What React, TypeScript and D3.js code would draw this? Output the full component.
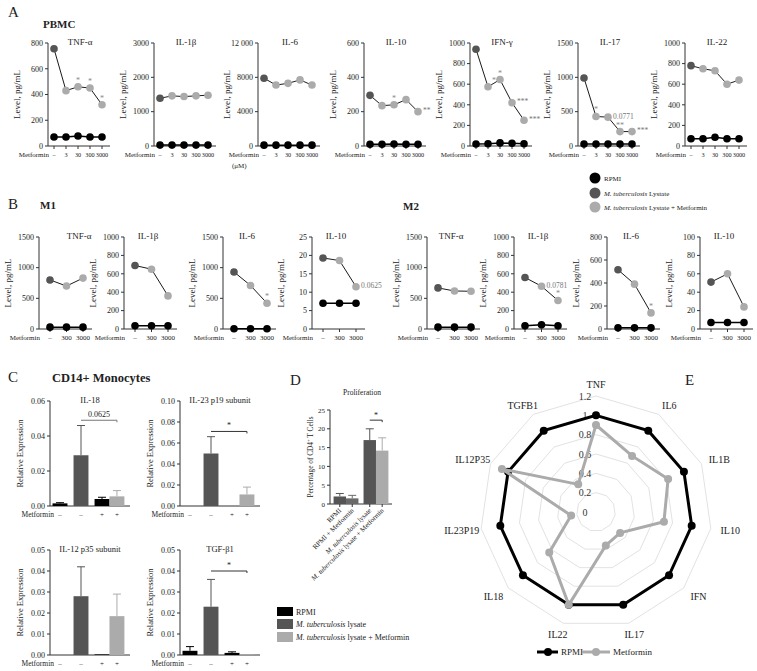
import React from "react";
import * as d3 from "d3";

const FONT = "'Liberation Serif', 'DejaVu Serif', serif";
const BLACK = "#000";
const DARK = "#555";
const LIGHT = "#ababab";
const INK = "#222";

// ---- A: PBMC ----
const pbmcDoses = ["–", "3", "30", "300", "3000"];
const pbmcTitles = ["TNF-α", "IL-1β", "IL-6", "IL-10", "IFN-γ", "IL-17", "IL-22"];
const pbmcMax = [800, 3000, 12000, 600, 1000, 1500, 1000];
const pbmcStep = [200, 1000, 4000, 200, 200, 500, 200];
const pbmcRpmi = [
  [70, 70, 78, 70, 70],
  [30, 30, 30, 30, 30],
  [100, 100, 100, 100, 100],
  [10, 10, 12, 10, 10],
  [20, 22, 30, 27, 22],
  [30, 30, 30, 30, 30],
  [70, 70, 85, 70, 70],
];
const pbmcLysate = [755, 1390, 7900, 295, 940, 990, 780];
const pbmcMet = [
  [430, 460, 450, 320],
  [1460, 1440, 1460, 1480],
  [7100, 7300, 7700, 7100],
  [235, 240, 270, 200],
  [575, 645, 420, 250],
  [430, 420, 210, 210],
  [750, 730, 600, 640],
];
const pbmcNotes: [number, string, string][][] = [
  [[1, "*", "up"], [2, "*", "up"], [3, "*", "up"]],
  [],
  [],
  [[1, "*", "up"], [3, "**", "right"]],
  [[0, "*", "upright"], [1, "*", "up"], [2, "***", "right"], [3, "***", "right"]],
  [[0, "*", "up"], [1, "0.0771", "right"], [2, "**", "up"], [3, "***", "right"]],
  [],
];

// ---- B: macrophages ----
const macroDoses = ["–", "300", "3000"];
const macroTitles = ["TNF-α", "IL-1β", "IL-6", "IL-10"];
const m1Max = [1500, 1000, 1500, 25];
const m1Step = [500, 200, 500, 5];
const m1Rpmi = [[30, 30, 30], [35, 35, 35], [5, 5, 5], [7, 7, 7]];
const m1Lysate = [800, 690, 930, 19.3];
const m1Met = [[700, 830], [650, 360], [710, 420], [18.6, 11.5]];
const m1Notes: [number, string, string][][] = [[], [], [[1, "*", "up"]], [[1, "0.0625", "right"]]];
const m2Max = [1500, 1000, 800, 100];
const m2Step = [500, 200, 200, 20];
const m2Rpmi = [[30, 30, 30], [35, 45, 35], [10, 10, 10], [7, 7, 7]];
const m2Lysate = [670, 560, 515, 51];
const m2Met = [[620, 615], [465, 310], [390, 140], [60, 24]];
const m2Notes: [number, string, string][][] = [[], [[0, "0.0781", "right"], [1, "*", "up"]], [[1, "*", "up"]], []];

// ---- C: CD14+ monocytes ----
const monoTitles = ["IL-18", "IL-23 p19 subunit", "IL-12 p35 subunit", "TGF-β1"];
const monoMax = [0.06, 0.1, 0.05, 0.05];
const monoStep = [0.02, 0.02, 0.01, 0.01];
const monoMean = [
  [0.0015, 0.029, 0.004, 0.0055],
  [0, 0.05, 0, 0.011],
  [0, 0.028, 0.0003, 0.0185],
  [0.002, 0.023, 0.001, 0.0003],
];
const monoErr = [
  [0.0004, 0.017, 0.001, 0.0033],
  [0, 0.016, 0, 0.007],
  [0, 0.014, 0, 0.0105],
  [0.002, 0.013, 0.0005, 0],
];
const monoMetformin = ["–", "–", "+", "+"];
const monoSig = ["0.0625", "*", "", "*"];
const monoSigLevel = [0.049, 0.071, 0, 0.04];

// ---- D: proliferation ----
const prolifLabels = ["RPMI", "RPMI + Metformin", "M. tuberculosis lysate", "M. tuberculosis lysate + Metformin"];
const prolifMean = [2, 1.5, 17, 14.2];
const prolifErr = [0.8, 0.8, 3, 3.4];
const prolifTicks = [0, 5, 10, 15, 20, 25];

// ---- E: radar ----
const radarAxes = ["TNF", "IL6", "IL1B", "IL10", "IFN", "IL17", "IL22", "IL18", "IL23P19", "IL12P35", "TGFB1"];
const radarRpmi = [1, 1, 1, 1, 1, 1, 1, 1, 1, 1, 1];
const radarMet = [0.9, 0.69, 0.82, 0.71, 0.33, 0.36, 1.0, 0.64, 0.26, 1.07, 0.34];
const radarTicks = [0, 0.2, 0.4, 0.6, 0.8, 1, 1.2];

const fmtTick = (t: number) => (t >= 10000 ? d3.format(",")(t).replace(",", " ") : String(t));

const Tb = ({ rest }: { rest: string }) => (
  <>
    <tspan fontStyle="italic">M. tuberculosis</tspan>
    {rest}
  </>
);

type DoseProps = {
  x0: number; yTop: number; yZero: number; span: number; pad: [number, number];
  doses: string[]; title: string; max: number; step: number;
  rpmi: number[]; lysate: number; met: number[]; notes: [number, string, string][];
  unit?: boolean; titleDx: number; doseFont: number;
};

function DoseChart(p: DoseProps) {
  const x = d3.scalePoint<string>().domain(p.doses).range([p.x0 + p.pad[0], p.x0 + p.pad[1]]);
  const y = d3.scaleLinear().domain([0, p.max]).range([p.yZero, p.yTop]);
  const ticks = d3.range(0, p.max + p.step / 2, p.step);
  const line = d3.line<number>().x((_, i) => x(p.doses[i])!).y((d) => y(d));
  const mtb = [p.lysate, ...p.met];
  const mid = (p.yTop + p.yZero) / 2;
  return (
    <g>
      <line x1={p.x0} x2={p.x0} y1={p.yTop} y2={p.yZero} stroke="#333" />
      <line x1={p.x0} x2={p.x0 + p.span} y1={p.yZero} y2={p.yZero} stroke="#333" />
      {ticks.map((t) => (
        <g key={t}>
          <line x1={p.x0 - 3} x2={p.x0} y1={y(t)} y2={y(t)} stroke="#333" />
          <text x={p.x0 - 5} y={y(t) + 2.8} textAnchor="end" fontSize={8}>{fmtTick(t)}</text>
        </g>
      ))}
      {p.doses.map((d) => (
        <g key={d}>
          <line x1={x(d)} x2={x(d)} y1={p.yZero} y2={p.yZero + 3} stroke="#333" />
          <text x={x(d)} y={p.yZero + 11} textAnchor="middle" fontSize={p.doseFont}>{d}</text>
        </g>
      ))}
      <text x={p.x0 + 1} y={p.yZero + 11} textAnchor="end" fontSize={7}>Metformin</text>
      {p.unit && <text x={p.x0 - 26} y={p.yZero + 22} fontSize={7}>(μM)</text>}
      <text x={p.x0 + p.titleDx} y={p.yTop + 2} textAnchor="middle" fontSize={9}>{p.title}</text>
      <text transform={`translate(${p.x0 - 28},${mid}) rotate(-90)`} textAnchor="middle" fontSize={9}>Level, pg/mL</text>
      <path d={line(p.rpmi)!} fill="none" stroke={BLACK} strokeWidth={1.5} />
      <path d={line(mtb)!} fill="none" stroke={BLACK} strokeWidth={0.9} />
      {p.rpmi.map((v, i) => (
        <circle key={"r" + i} cx={x(p.doses[i])} cy={y(v)} r={3.8} fill={BLACK} />
      ))}
      {mtb.map((v, i) => (
        <circle key={"m" + i} cx={x(p.doses[i])} cy={y(v)} r={3.8} fill={i === 0 ? DARK : LIGHT} />
      ))}
      {p.notes.map(([i, txt, where]) => {
        const cx = x(p.doses[i + 1])!;
        const cy = y(p.met[i]);
        if (where === "up") return <text key={txt + i} x={cx} y={cy - 4} textAnchor="middle" fontSize={8} fill="#888">{txt}</text>;
        if (where === "upright") return <text key={txt + i} x={cx + 4} y={cy - 4} fontSize={8} fill="#888">{txt}</text>;
        return <text key={txt + i} x={cx + 5} y={cy + 1.5} fontSize={7.5} fill="#777">{txt}</text>;
      })}
    </g>
  );
}

type BarProps = { x0: number; yTop: number; yZero: number; k: number };

function MonoChart({ x0, yTop, yZero, k }: BarProps) {
  const y = d3.scaleLinear().domain([0, monoMax[k]]).range([yZero, yTop]);
  const ticks = d3.range(0, monoMax[k] + monoStep[k] / 2, monoStep[k]);
  const band = d3.scaleBand<number>().domain([0, 1, 2]).range([x0, x0 + 62]).paddingInner(0.29).paddingOuter(0.12);
  const bw = band.bandwidth();
  const barX = (i: number) => (i < 3 ? band(i)! : band(2)! + bw);
  const colors = [BLACK, DARK, BLACK, LIGHT];
  const fmt = d3.format(".2f");
  const mid = (yTop + yZero) / 2;
  return (
    <g>
      <line x1={x0} x2={x0} y1={yTop} y2={yZero} stroke="#333" />
      <line x1={x0} x2={x0 + 80} y1={yZero} y2={yZero} stroke="#333" />
      {ticks.map((t) => (
        <g key={t}>
          <line x1={x0 - 3} x2={x0} y1={y(t)} y2={y(t)} stroke="#333" />
          <text x={x0 - 5} y={y(t) + 2.8} textAnchor="end" fontSize={8}>{fmt(t)}</text>
        </g>
      ))}
      <text x={x0 + 40} y={yTop + 2} textAnchor="middle" fontSize={8.5}>{monoTitles[k]}</text>
      <text transform={`translate(${x0 - 27},${mid}) rotate(-90)`} textAnchor="middle" fontSize={8.5}>Relative Expression</text>
      {monoMean[k].map((v, i) => {
        const top = y(v + monoErr[k][i]);
        const cx = barX(i) + bw / 2;
        return (
          <g key={i}>
            {monoErr[k][i] > 0 && (
              <g stroke={colors[i]} strokeWidth={1}>
                <line x1={cx} x2={cx} y1={y(v)} y2={top} />
                <line x1={cx - 4} x2={cx + 4} y1={top} y2={top} />
              </g>
            )}
            <rect x={barX(i)} y={y(v)} width={bw} height={yZero - y(v)} fill={colors[i]} />
            <text x={cx} y={yZero + 11} textAnchor="middle" fontSize={7}>{monoMetformin[i]}</text>
          </g>
        );
      })}
      <text x={x0 + 4} y={yZero + 11} textAnchor="end" fontSize={7.5}>Metformin</text>
      {monoSig[k] && (
        <g>
          <path
            d={`M${barX(1) + bw / 2},${y(monoSigLevel[k])}H${barX(3) + bw / 2}v2`}
            fill="none" stroke={k === 0 ? "#777" : "#333"} strokeWidth={1}
          />
          <text x={(barX(1) + barX(3) + bw) / 2} y={y(monoSigLevel[k]) - 3} textAnchor="middle" fontSize={8}>{monoSig[k]}</text>
        </g>
      )}
    </g>
  );
}

function Proliferation() {
  const x0 = 330, yTop = 410, yZero = 504;
  const y = d3.scaleLinear().domain([0, 25]).range([yZero, yTop]);
  const group = d3.scaleBand<number>().domain([0, 1]).range([x0, x0 + 62]).paddingInner(0.17).paddingOuter(0.12);
  const bw = group.bandwidth() / 2;
  const barX = (i: number) => group(Math.floor(i / 2))! + (i % 2) * bw;
  const colors = [DARK, "#6a6a6a", DARK, LIGHT];
  return (
    <g>
      <text x={x0 + 32} y={395} textAnchor="middle" fontSize={7.5}>Proliferation</text>
      <line x1={x0} x2={x0} y1={yTop} y2={yZero} stroke="#333" />
      <line x1={x0} x2={x0 + 62} y1={yZero} y2={yZero} stroke="#333" />
      {prolifTicks.map((t) => (
        <g key={t}>
          <line x1={x0 - 3} x2={x0} y1={y(t)} y2={y(t)} stroke="#333" />
          <text x={x0 - 5} y={y(t) + 2.5} textAnchor="end" fontSize={7}>{t}</text>
        </g>
      ))}
      <text transform={`translate(${x0 - 17},${(yTop + yZero) / 2}) rotate(-90)`} textAnchor="middle" fontSize={7.3}>
        Percentage of CD4<tspan dy={-3} fontSize={5}>+</tspan><tspan dy={3}> T Cells</tspan>
      </text>
      {prolifMean.map((v, i) => {
        const cx = barX(i) + bw / 2;
        const top = y(v + prolifErr[i]);
        const lab = prolifLabels[i];
        return (
          <g key={i}>
            <g stroke={colors[i]}>
              <line x1={cx} x2={cx} y1={y(v)} y2={top} />
              <line x1={cx - 4} x2={cx + 4} y1={top} y2={top} />
            </g>
            <rect x={barX(i)} y={y(v)} width={bw} height={yZero - y(v)} fill={colors[i]} />
            <line x1={cx} x2={cx} y1={yZero} y2={yZero + 3} stroke="#333" />
            <text transform={`translate(${cx + 2},${yZero + 7}) rotate(-45)`} textAnchor="end" fontSize={7}>
              {lab.startsWith("M. tuberculosis") ? <Tb rest={lab.slice(15)} /> : lab}
            </text>
          </g>
        );
      })}
      <path d={`M${barX(2) + bw / 2},${y(22.3)}H${barX(3) + bw / 2}v2`} fill="none" stroke="#333" />
      <text x={barX(3)} y={y(22.3) - 2} textAnchor="middle" fontSize={8}>*</text>
    </g>
  );
}

function Radar() {
  const cx = 596, cy = 512;
  const r = d3.scaleLinear().domain([0, 1.2]).range([0, 116]);
  const n = radarAxes.length;
  const ang = (i: number) => (i * 2 * Math.PI) / n;
  const pt = (i: number, v: number): [number, number] => [cx + r(v) * Math.sin(ang(i)), cy - r(v) * Math.cos(ang(i))];
  const closed = d3.line<[number, number]>().curve(d3.curveLinearClosed);
  return (
    <g>
      {radarTicks.slice(1).map((t) => (
        <path key={t} d={closed(radarAxes.map((_, i) => pt(i, t)))!} fill="none" stroke="#e2e2e2" strokeWidth={1} />
      ))}
      {radarTicks.map((t) => (
        <text key={t} x={cx - 11} y={cy - r(t) + 3.5} textAnchor="middle" fontSize={10} fill="#333">{t}</text>
      ))}
      {radarAxes.map((a, i) => {
        const s = Math.sin(ang(i));
        const [lx, ly] = pt(i, 1.32);
        return (
          <text key={a} x={lx + s * 8} y={ly + 4} textAnchor="middle" fontSize={10}>{a}</text>
        );
      })}
      <path d={closed(radarRpmi.map((v, i) => pt(i, v)))!} fill="none" stroke={BLACK} strokeWidth={3} />
      {radarRpmi.map((v, i) => {
        const [px, py] = pt(i, v);
        return <circle key={i} cx={px} cy={py} r={4} fill={BLACK} />;
      })}
      <path d={closed(radarMet.map((v, i) => pt(i, v)))!} fill="none" stroke={LIGHT} strokeWidth={3} />
      {radarMet.map((v, i) => {
        const [px, py] = pt(i, v);
        return <circle key={i} cx={px} cy={py} r={4} fill={LIGHT} />;
      })}
      <g>
        <line x1={537} x2={558} y1={652} y2={652} stroke={BLACK} strokeWidth={3} />
        <circle cx={548} cy={652} r={4} fill={BLACK} />
        <text x={561} y={655} fontSize={9}>RPMI</text>
        <line x1={582} x2={610} y1={652} y2={652} stroke={LIGHT} strokeWidth={3} />
        <circle cx={596} cy={652} r={4} fill={LIGHT} />
        <text x={613} y={655} fontSize={9}>Metformin</text>
      </g>
    </g>
  );
}

const pbmcAxisX = [48, 154, 258, 364, 470, 578, 685];
const m1AxisX = [39, 124, 223, 312];
const m2AxisX = [427, 514, 607, 700];

export default function App() {
  return (
    <div style={{ position: "absolute", left: 0, top: 0 }}>
      <svg width={757} height={671} style={{ display: "block", background: "#fff" }} fontFamily={FONT} fill={INK}>
        <text x={8} y={17} fontSize={15}>A</text>
        <text x={43} y={28} fontSize={11} fontWeight="bold">PBMC</text>
        {pbmcTitles.map((t, k) => (
          <DoseChart
            key={t + k}
            x0={pbmcAxisX[k]} yTop={43} yZero={146} span={62} pad={[6, 54]}
            doses={pbmcDoses} title={t} max={pbmcMax[k]} step={pbmcStep[k]}
            rpmi={pbmcRpmi[k]} lysate={pbmcLysate[k]} met={pbmcMet[k]} notes={pbmcNotes[k]}
            unit={k === 2} titleDx={32} doseFont={6.2}
          />
        ))}

        <g>
          <circle cx={595} cy={178} r={5.5} fill={BLACK} />
          <text x={604} y={181} fontSize={7}>RPMI</text>
          <circle cx={595} cy={193} r={5.5} fill={DARK} />
          <text x={604} y={196} fontSize={7}><Tb rest=" Lystate" /></text>
          <circle cx={595} cy={207} r={5.5} fill={LIGHT} />
          <text x={604} y={210} fontSize={7}><Tb rest=" Lystate + Metformin" /></text>
        </g>

        <text x={8} y={209} fontSize={15}>B</text>
        <text x={40} y={209} fontSize={11} fontWeight="bold">M1</text>
        <text x={403} y={210} fontSize={11} fontWeight="bold">M2</text>
        {macroTitles.map((t, k) => (
          <DoseChart
            key={"m1" + k}
            x0={m1AxisX[k]} yTop={237} yZero={329} span={53} pad={[11, 44]}
            doses={macroDoses} title={t} max={m1Max[k]} step={m1Step[k]}
            rpmi={m1Rpmi[k]} lysate={m1Lysate[k]} met={m1Met[k]} notes={m1Notes[k]}
            titleDx={k === 0 ? 40 : 24} doseFont={7}
          />
        ))}
        {macroTitles.map((t, k) => (
          <DoseChart
            key={"m2" + k}
            x0={m2AxisX[k]} yTop={237} yZero={329} span={53} pad={[11, 44]}
            doses={macroDoses} title={t} max={m2Max[k]} step={m2Step[k]}
            rpmi={m2Rpmi[k]} lysate={m2Lysate[k]} met={m2Met[k]} notes={m2Notes[k]}
            titleDx={24} doseFont={7}
          />
        ))}

        <text x={8} y={382} fontSize={15}>C</text>
        <text x={52} y={382} fontSize={12.5} fontWeight="bold">CD14+ Monocytes</text>
        <MonoChart x0={50} yTop={401} yZero={506} k={0} />
        <MonoChart x0={180} yTop={401} yZero={506} k={1} />
        <MonoChart x0={50} yTop={550} yZero={655} k={2} />
        <MonoChart x0={180} yTop={550} yZero={655} k={3} />
        <g>
          <rect x={277} y={607} width={16} height={9} fill={BLACK} />
          <text x={296} y={615} fontSize={8}>RPMI</text>
          <rect x={277} y={619} width={16} height={10} fill={DARK} />
          <text x={296} y={627} fontSize={8}><Tb rest=" lysate" /></text>
          <rect x={277} y={632} width={16} height={10} fill={LIGHT} />
          <text x={296} y={640} fontSize={8}><Tb rest=" lysate + Metformin" /></text>
        </g>

        <text x={290} y={385} fontSize={15}>D</text>
        <Proliferation />

        <text x={685} y={385} fontSize={15}>E</text>
        <Radar />
      </svg>
    </div>
  );
}
